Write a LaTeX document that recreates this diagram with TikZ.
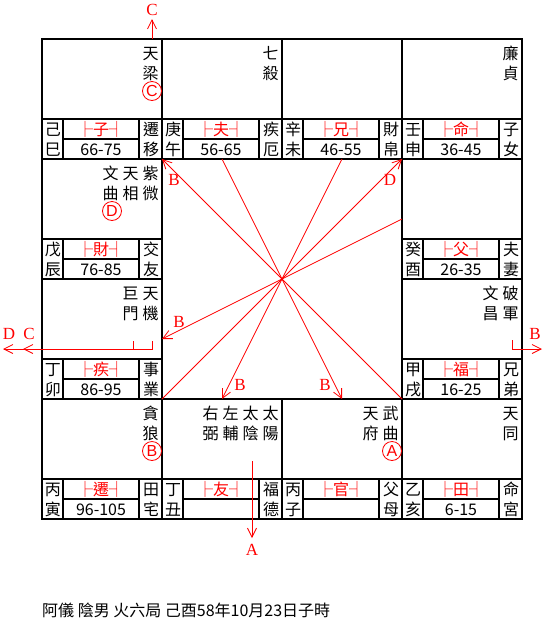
\documentclass[tikz,border=0pt]{standalone}
\usepackage{fontspec}
\newfontfamily\cjk{Noto Sans CJK TC}
\newfontfamily\lblfont{Liberation Serif}
\newfontfamily\circfont{Liberation Sans}
\usetikzlibrary{arrows.meta}
\tikzset{
  gridline/.style={line width=2.5pt, black},
  ch/.style={font=\cjk\fontsize{16}{16}\selectfont, inner sep=0pt, text height=14pt, text depth=2pt},
  redlab/.style={ch, text=red},
  redline/.style={red, line width=0.8pt},
  tipped/.style={-{Straight Barb[length=9pt,width=9pt]}},
  arrlab/.style={text=red, font=\lblfont\fontsize{17}{17}\selectfont, inner sep=0pt},
  circled/.style={circle, draw=red, line width=0.8pt, text=red, minimum size=19pt, inner sep=0pt, font=\circfont\fontsize{16}{16}\selectfont},
}
% x0, y0, id, stem1, stem2, palace, age, right1, right2
\newcommand\Gong[9]{%
  \draw[gridline] (#1,#2) rectangle ++(120,120);
  \draw[gridline] (#1,#2+80) -- ++(120,0);
  \draw[gridline] (#1+21,#2+80) -- ++(0,40);
  \draw[gridline] (#1+97,#2+80) -- ++(0,40);
  \draw[gridline] (#1+21,#2+100) -- (#1+97,#2+100);
  \node[ch] (#3-s1) at (#1+11,#2+90) {#4};
  \node[ch] (#3-s2) at (#1+11,#2+110) {#5};
  \node[redlab] (#3-p) at (#1+59,#2+90) {├#6┤};
  \if\relax\detokenize{#7}\relax\else\node[ch] (#3-a) at (#1+59,#2+110) {#7};\fi
  \node[ch] (#3-r1) at (#1+109,#2+90) {#8};
  \node[ch] (#3-r2) at (#1+109,#2+110) {#9};
}
% id, x, y0, char1, char2
\newcommand\StarCol[5]{%
  \node[ch] (#1a) at (#2,#3+14) {#4};
  \node[ch] (#1b) at (#2,#3+34) {#5};
}
\begin{document}
\begin{tikzpicture}[x=1pt,y=-1pt]
\useasboundingbox (0,0) rectangle (549,622);
% palaces
\Gong{42}{39}{g1}{己}{巳}{子}{66-75}{遷}{移}
\Gong{162}{39}{g2}{庚}{午}{夫}{56-65}{疾}{厄}
\Gong{282}{39}{g3}{辛}{未}{兄}{46-55}{財}{帛}
\Gong{402}{39}{g4}{壬}{申}{命}{36-45}{子}{女}
\Gong{42}{159}{g5}{戊}{辰}{財}{76-85}{交}{友}
\Gong{402}{159}{g6}{癸}{酉}{父}{26-35}{夫}{妻}
\Gong{42}{279}{g7}{丁}{卯}{疾}{86-95}{事}{業}
\Gong{402}{279}{g8}{甲}{戌}{福}{16-25}{兄}{弟}
\Gong{42}{399}{g9}{丙}{寅}{遷}{96-105}{田}{宅}
\Gong{162}{399}{g10}{丁}{丑}{友}{}{福}{德}
\Gong{282}{399}{g11}{丙}{子}{官}{}{父}{母}
\Gong{402}{399}{g12}{乙}{亥}{田}{6-15}{命}{宮}
% stars
\StarCol{tl}{150.5}{39}{天}{梁}
\StarCol{qs}{270.5}{39}{七}{殺}
\StarCol{lz}{510.5}{39}{廉}{貞}
\StarCol{zw}{150.5}{159}{紫}{微}
\StarCol{tx}{130.5}{159}{天}{相}
\StarCol{wq}{110.5}{159}{文}{曲}
\StarCol{tj}{150.5}{279}{天}{機}
\StarCol{jm}{130.5}{279}{巨}{門}
\StarCol{pj}{510.5}{279}{破}{軍}
\StarCol{wc}{490.5}{279}{文}{昌}
\StarCol{tlg}{150.5}{399}{貪}{狼}
\StarCol{ty}{270.5}{399}{太}{陽}
\StarCol{tyin}{250.5}{399}{太}{陰}
\StarCol{zf}{230.5}{399}{左}{輔}
\StarCol{yb}{210.5}{399}{右}{弼}
\StarCol{wqu}{390.5}{399}{武}{曲}
\StarCol{tf}{370.5}{399}{天}{府}
\StarCol{tt}{510.5}{399}{天}{同}
% circled marks
\node[circled] (cC) at (152,91) {C};
\node[circled] (cD) at (112,211) {D};
\node[circled] (cB) at (152,451) {B};
\node[circled] (cA) at (392,451) {A};
% centre lines
\coordinate (O) at (282,279);
\coordinate (p1) at (162,159);
\coordinate (p2) at (222,159);
\coordinate (p3) at (342,159);
\coordinate (p4) at (402,159);
\coordinate (p5) at (402,219);
\coordinate (p6) at (162,339);
\coordinate (p7) at (162,399);
\coordinate (p8) at (222,399);
\coordinate (p9) at (342,399);
\coordinate (p10) at (402,399);
\draw[redline,tipped] (O) -- (p1);
\draw[redline] (O) -- (p2);
\draw[redline] (O) -- (p3);
\draw[redline,tipped] (O) -- (p4);
\draw[redline] (O) -- (p5);
\draw[redline,tipped] (O) -- (p6);
\draw[redline] (O) -- (p7);
\draw[redline,tipped] (O) -- (p8);
\draw[redline,tipped] (O) -- (p9);
\draw[redline] (O) -- (p10);
\node[arrlab] (lb1) at (174,180) {B};
\node[arrlab] (ld1) at (390,180) {D};
\node[arrlab] (lb2) at (179,322) {B};
\node[arrlab] (lb3) at (240,385) {B};
\node[arrlab] (lb4) at (325,385) {B};
% outer arrows
\coordinate (cs) at (152,39);
\coordinate (ce) at (152,19);
\node[arrlab] (lc) at (152,10) {C};
\draw[redline,tipped] (cs) -- (ce);
\coordinate (as) at (252,461);
\coordinate (ae) at (252,538);
\node[arrlab] (la) at (252,550) {A};
\draw[redline,tipped] (as) -- (ae);
\coordinate (ds) at (152,341);
\coordinate (de) at (3,349);
\coordinate (c2s) at (133,341);
\coordinate (c2e) at (23,349);
\draw[redline,tipped] (ds) |- (de);
\draw[redline,tipped] (c2s) |- (c2e);
\node[arrlab] (ld2) at (9,334) {D};
\node[arrlab] (lc2) at (29,334) {C};
\coordinate (bs) at (512,340);
\coordinate (be) at (542,349);
\draw[redline,tipped] (bs) |- (be);
\node[arrlab] (lb5) at (535,334) {B};
% footer
\node[ch, anchor=west] (foot) at (42,610) {阿儀 陰男 火六局 己酉58年10月23日子時};
\end{tikzpicture}
\end{document}
